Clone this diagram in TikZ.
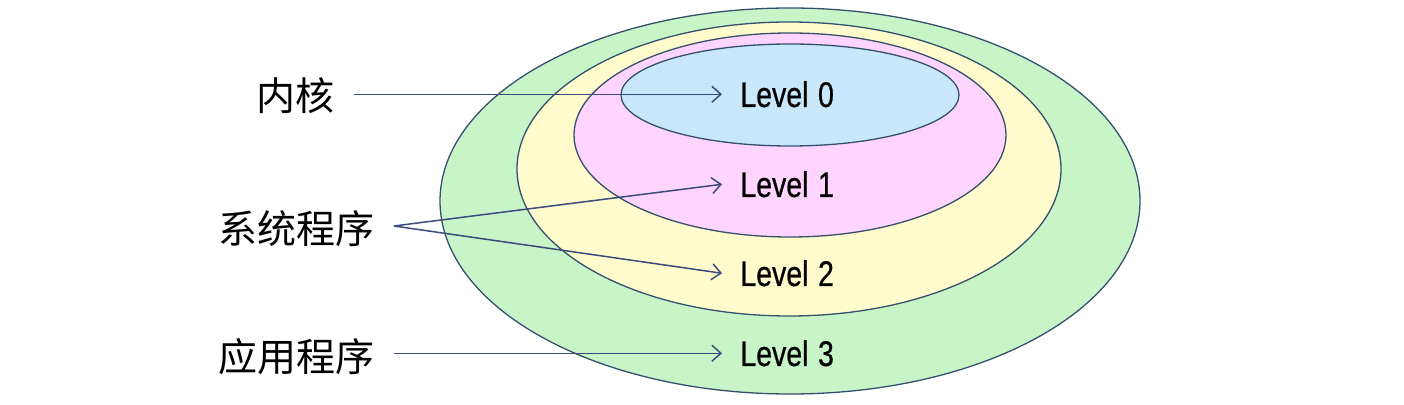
\documentclass[tikz,border=0pt]{standalone}
\usepackage{fontspec}
\setmainfont{Liberation Sans}
\newfontfamily\narrowfont[FakeStretch=0.8,FakeBold=0.6]{Liberation Sans}
\newfontfamily\cjk{Noto Sans CJK SC}
\usetikzlibrary{arrows.meta}
\definecolor{ringline}{HTML}{34506E}
\definecolor{arrowcol}{HTML}{3A4C7C}
\definecolor{fillG}{HTML}{C8F5C8}
\definecolor{fillY}{HTML}{FFFBCC}
\definecolor{fillP}{HTML}{FFD4FF}
\definecolor{fillB}{HTML}{C9E7FB}
\newcommand{\lvltxt}[1]{\narrowfont\fontsize{17.8}{20}\selectfont\spaceskip=4.8pt plus 0pt minus 0pt\relax #1}
\tikzset{
  ring/.style={draw=ringline, line width=0.65pt},
  lvl/.style={anchor=base west, inner xsep=9pt, inner ysep=0pt, text=black},
  cn/.style={anchor=east, inner xsep=9.5pt, inner ysep=0pt,
    font=\cjk\fontsize{19.5}{22}\selectfont, text=black},
  arr/.style={draw=arrowcol, line width=0.75pt, -{Straight Barb[length=4.5pt,width=8pt]}}
}
\begin{document}
\begin{tikzpicture}[x=0.5pt,y=-0.5pt]
\useasboundingbox (0,0) rectangle (1404,405);
\path[ring, fill=fillG] (790,201) ellipse [x radius=175pt, y radius=96.5pt];
\path[ring, fill=fillY] (789,169) ellipse [x radius=136pt, y radius=73.5pt];
\path[ring, fill=fillP] (790,135) ellipse [x radius=108pt, y radius=51pt];
\path[ring, fill=fillB] (790,95) ellipse [x radius=84.5pt, y radius=25.5pt];

\node[lvl] (L0) at (722,107) {\lvltxt{Level 0}};
\node[lvl] (L1) at (722,197) {\lvltxt{Level 1}};
\node[lvl] (L2) at (722,286) {\lvltxt{Level 2}};
\node[lvl] (L3) at (722,366) {\lvltxt{Level 3}};

\node[cn] (kern) at (354,96) {内核};
\node[cn] (sys) at (394,229) {系统程序};
\node[cn] (app) at (394,357) {应用程序};

\coordinate (fork) at (394,226);
\draw[arr] (kern.east |- L0.west) -- (L0.west);
\draw[arr] (fork) -- (L1.west);
\draw[arr] (fork) -- (L2.west);
\draw[arr] (app.east |- L3.west) -- (L3.west);
\end{tikzpicture}
\end{document}
